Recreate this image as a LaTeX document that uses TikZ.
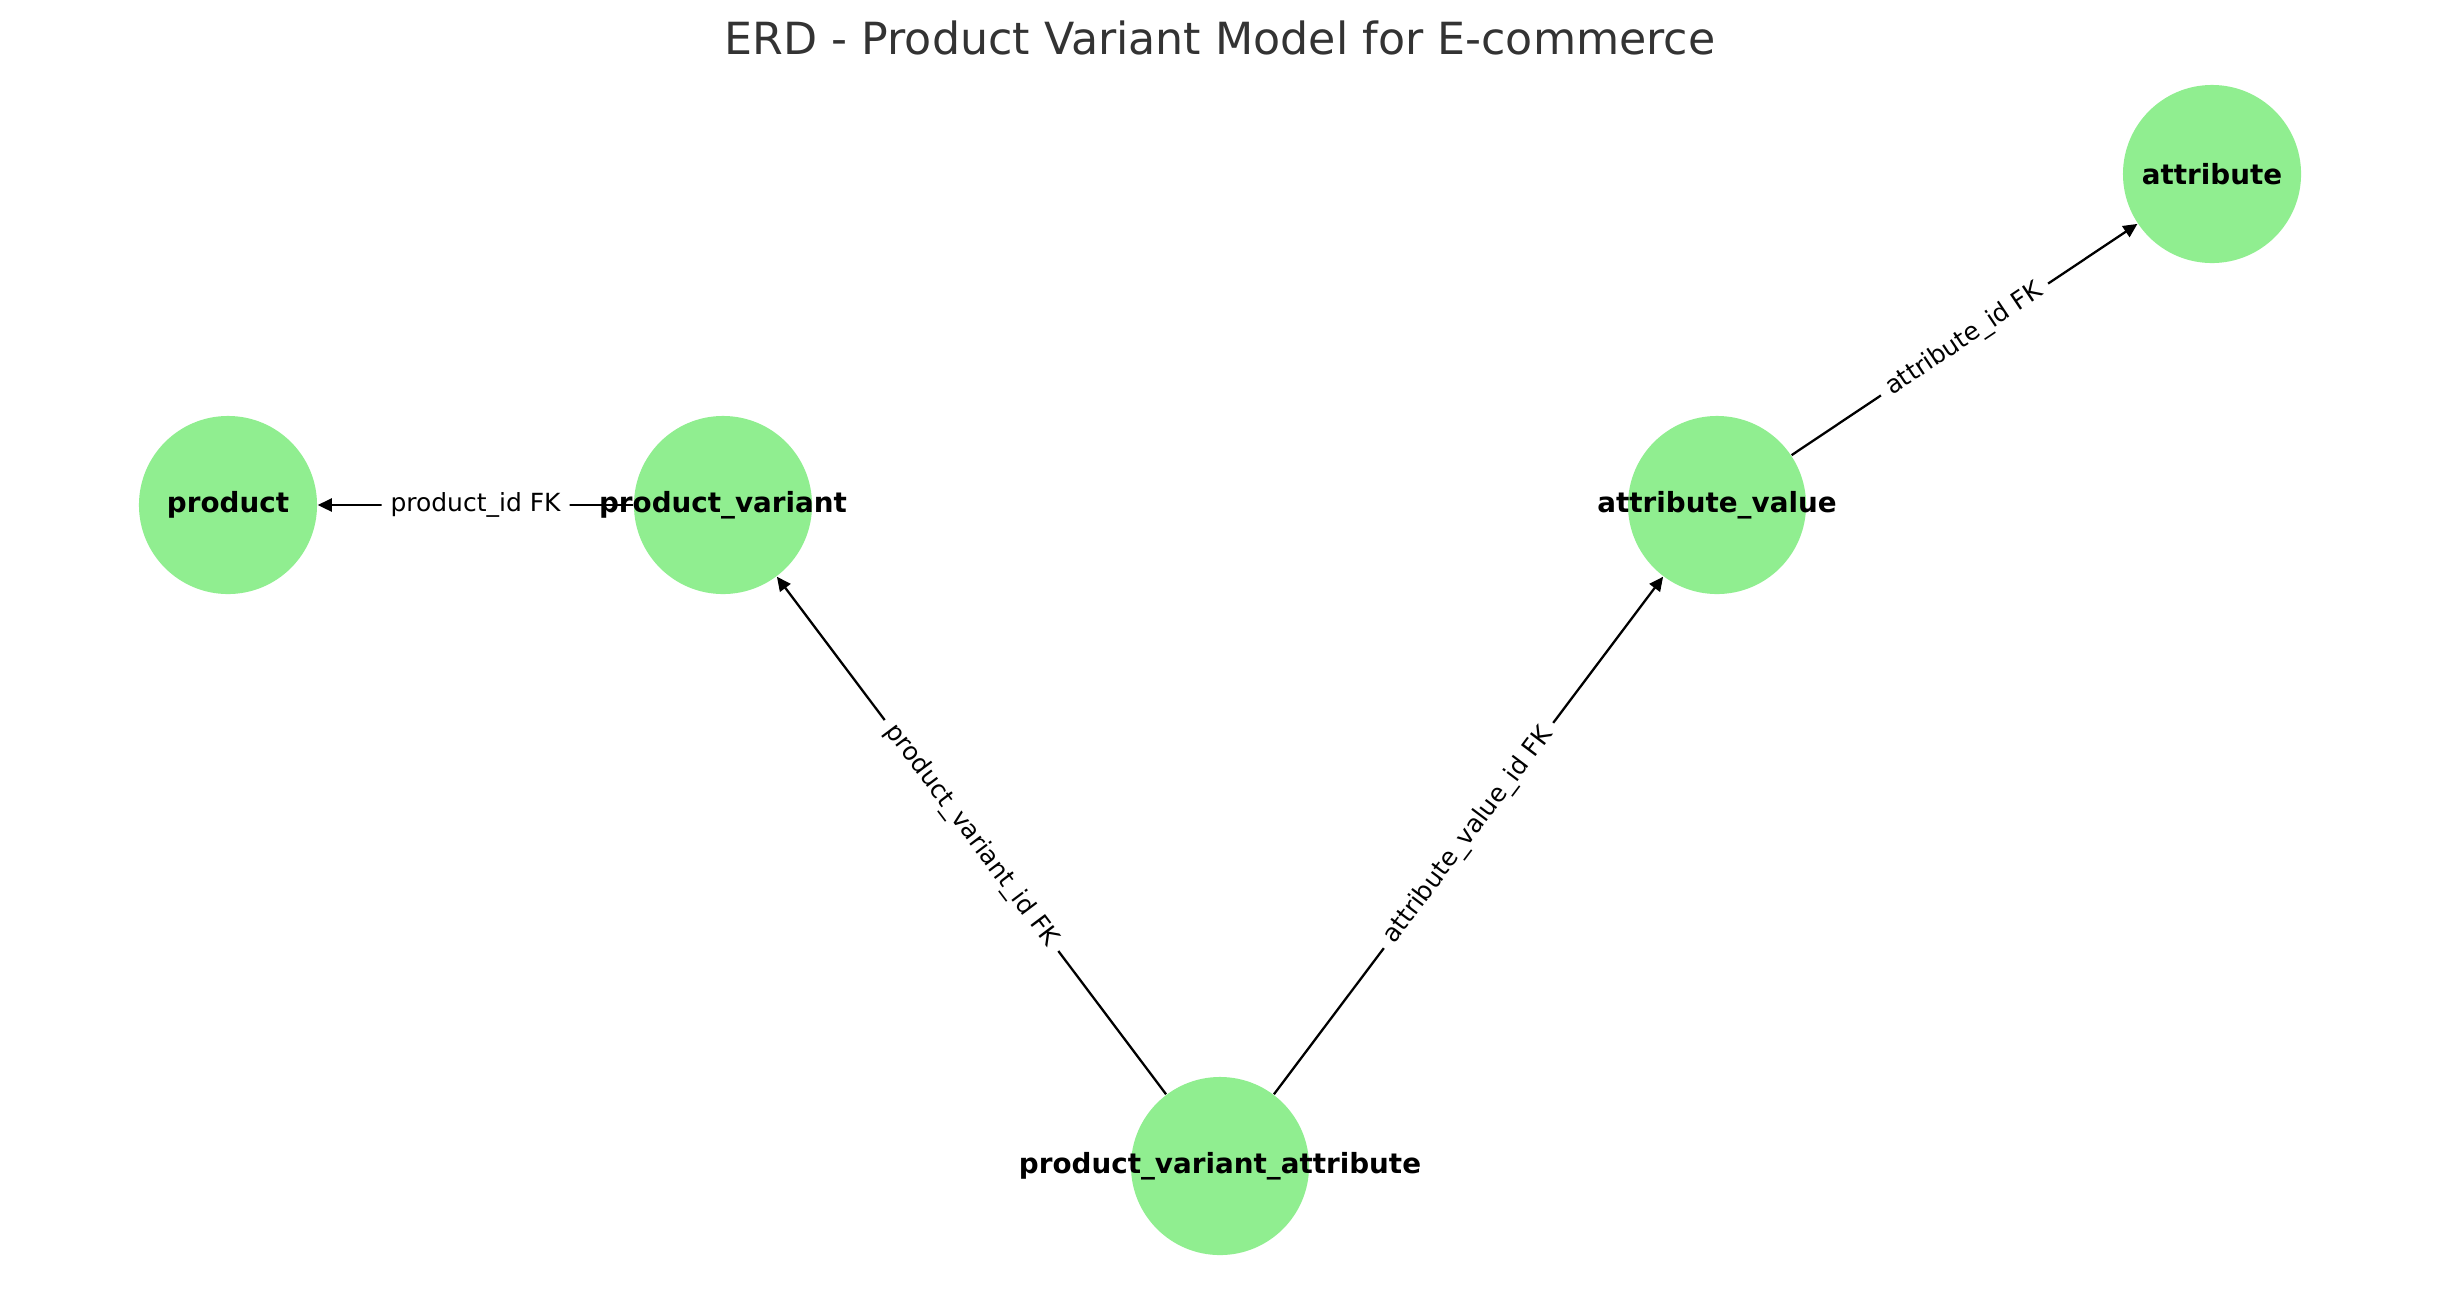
\documentclass[tikz,border=0pt]{standalone}
\usepackage{fontspec}
\setmainfont{DejaVu Sans}
\usetikzlibrary{arrows.meta}
\definecolor{nodegreen}{HTML}{90EE90}
\definecolor{titlegray}{HTML}{333333}
\tikzset{
  entity/.style={circle, fill=nodegreen, draw=none, minimum size=1.78cm, inner sep=0pt},
  entitylabel/.style={font=\fontsize{7.9pt}{9pt}\selectfont\bfseries, text=black, inner sep=0pt},
  fk/.style={draw=black, line width=0.65pt, -{Triangle[length=0.14cm,width=0.13cm]}},
  fklabel/.style={font=\fontsize{7.1pt}{8.5pt}\selectfont, fill=white, inner sep=0.09cm, rounded corners=0.05cm, sloped},
}
\begin{document}
\begin{tikzpicture}[x=0.01cm,y=-0.01cm]
\useasboundingbox (0,0) rectangle (2440,1290);
\node[font=\fontsize{12.6pt}{14pt}\selectfont, text=titlegray] (title) at (1220,38) {ERD - Product Variant Model for E-commerce};

\node[entity] (product) at (228,505) {};
\node[entity] (pv) at (723,505) {};
\node[entity] (av) at (1717,505) {};
\node[entity] (attr) at (2212,174) {};
\node[entity] (pva) at (1220,1166) {};

\draw[fk] (pv) -- node[fklabel] {product\_id FK} (product);
\draw[fk] (pva) -- node[fklabel] {product\_variant\_id FK} (pv);
\draw[fk] (pva) -- node[fklabel] {attribute\_value\_id FK} (av);
\draw[fk] (av) -- node[fklabel] {attribute\_id FK} (attr);

\node[entitylabel] (productlbl) at (product.center) {product};
\node[entitylabel] (pvlbl) at (pv.center) {product\_variant};
\node[entitylabel] (avlbl) at (av.center) {attribute\_value};
\node[entitylabel] (attrlbl) at (attr.center) {attribute};
\node[entitylabel] (pvalbl) at (pva.center) {product\_variant\_attribute};
\end{tikzpicture}
\end{document}
